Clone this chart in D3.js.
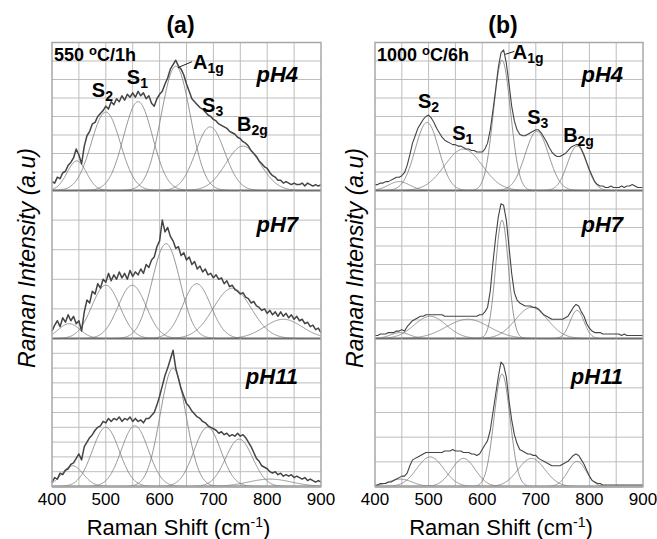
<!DOCTYPE html>
<html>
<head>
<meta charset="utf-8">
<script src="https://cdn.jsdelivr.net/npm/d3@7/dist/d3.min.js"></script>
<style>
  body { margin: 0; background: #fff; }
  svg text { font-family: "Liberation Sans", Arial, sans-serif; fill: #000; }
</style>
</head>
<body>
<div id="chart"></div>
<script>
// x axis
const shiftDomain = [400, 900];
const shiftTicks = [400, 500, 600, 700, 800, 900];
const shiftGrid = [450, 500, 550, 600, 650, 700, 750, 800, 850];
const sampleStart = 400;
const sampleStep = 5;

// measured spectra, normalised intensity, one value every 5 cm-1 from 400 to 900
const a4Spectrum = [.06,.05,.09,.08,.12,.13,.17,.19,.22,.28,.24,.18,.30,.37,.40,.45,.46,.50,.52,.54,
  .57,.55,.60,.58,.62,.60,.64,.61,.65,.63,.66,.63,.67,.64,.66,.62,.64,.59,.57,.62,
  .65,.67,.72,.76,.82,.85,.88,.84,.82,.78,.72,.67,.62,.60,.58,.56,.55,.53,.51,.50,
  .48,.47,.45,.44,.43,.42,.40,.39,.38,.36,.35,.33,.32,.30,.27,.25,.23,.20,.18,.16,
  .15,.12,.10,.09,.07,.07,.05,.06,.05,.04,.05,.04,.04,.05,.03,.05,.04,.03,.04,.03,.04];
const a7Spectrum = [.05,.09,.12,.08,.14,.11,.16,.12,.15,.10,.12,.05,.18,.26,.24,.32,.30,.37,.34,.40,
  .38,.44,.39,.43,.40,.45,.41,.44,.40,.46,.42,.45,.43,.47,.44,.50,.48,.53,.55,.62,
  .66,.80,.72,.75,.69,.66,.61,.62,.56,.58,.53,.55,.50,.52,.47,.49,.45,.47,.43,.44,
  .41,.43,.40,.41,.37,.39,.35,.36,.33,.32,.30,.31,.28,.27,.24,.25,.22,.21,.19,.20,
  .17,.19,.16,.18,.15,.18,.15,.17,.14,.16,.13,.15,.12,.13,.10,.11,.08,.09,.06,.07,.04];
const a11Spectrum = [.03,.06,.05,.09,.08,.11,.12,.15,.16,.19,.22,.18,.27,.30,.33,.35,.38,.40,.41,.44,
  .43,.46,.44,.46,.45,.47,.44,.46,.45,.47,.44,.46,.44,.45,.43,.46,.46,.48,.50,.55,
  .61,.68,.75,.80,.86,.92,.80,.73,.66,.61,.56,.54,.51,.49,.47,.46,.44,.43,.41,.40,
  .39,.38,.36,.37,.35,.36,.34,.35,.34,.36,.34,.35,.33,.30,.27,.23,.19,.17,.14,.13,
  .12,.10,.09,.10,.08,.09,.07,.08,.07,.08,.06,.07,.06,.05,.06,.04,.05,.04,.03,.04,.03];
const b4Spectrum = [.04,.04,.05,.05,.06,.06,.07,.08,.09,.09,.10,.12,.17,.24,.32,.37,.42,.45,.48,.50,
  .51,.49,.46,.42,.39,.36,.34,.33,.32,.31,.31,.30,.30,.29,.28,.28,.27,.27,.26,.26,
  .26,.28,.32,.41,.54,.68,.83,.93,.95,.86,.72,.57,.47,.41,.38,.37,.37,.38,.39,.40,
  .41,.41,.39,.36,.33,.29,.26,.24,.23,.23,.24,.25,.27,.29,.30,.31,.31,.28,.24,.19,
  .14,.10,.06,.04,.03,.03,.02,.02,.03,.02,.02,.02,.03,.02,.03,.03,.04,.03,.02,.02,.02];
const b7Spectrum = [.02,.02,.03,.03,.03,.04,.04,.04,.05,.05,.06,.05,.08,.10,.12,.13,.14,.15,.15,.16,
  .16,.16,.16,.16,.16,.16,.15,.15,.15,.15,.15,.15,.15,.15,.15,.15,.15,.15,.15,.16,
  .16,.18,.21,.32,.51,.68,.82,.91,.90,.80,.62,.44,.31,.26,.24,.23,.22,.22,.22,.21,
  .21,.20,.18,.16,.15,.14,.13,.13,.13,.13,.13,.14,.15,.18,.21,.23,.22,.18,.15,.10,
  .07,.05,.04,.04,.04,.03,.03,.03,.03,.03,.03,.03,.02,.03,.02,.02,.02,.02,.02,.02,.02];
const b11Spectrum = [.01,.01,.02,.02,.02,.03,.03,.04,.05,.06,.07,.07,.09,.14,.18,.19,.20,.21,.22,.23,
  .23,.23,.23,.23,.23,.23,.24,.24,.24,.25,.24,.24,.24,.23,.23,.23,.22,.22,.21,.22,
  .25,.28,.31,.38,.50,.62,.74,.84,.82,.74,.58,.45,.35,.29,.25,.24,.23,.22,.22,.21,
  .21,.19,.18,.17,.16,.15,.14,.14,.14,.14,.15,.16,.17,.19,.21,.22,.21,.18,.15,.11,
  .07,.04,.03,.02,.02,.01,.01,.01,.01,.01,.01,.01,.01,.01,.01,.01,.01,.01,.01,.01,.01];

// fitted components: centre (cm-1), height, sigma (cm-1)
const a4Centres = [446, 500, 560, 630, 694, 755];
const a4Heights = [.20, .53, .60, .84, .43, .30];
const a4Sigmas  = [18, 27, 27, 27, 27, 32];
const a7Centres = [432, 500, 549, 612, 669, 735, 830];
const a7Heights = [.10, .36, .36, .64, .37, .34, .13];
const a7Sigmas  = [20, 26, 26, 26, 26, 35, 35];
const a11Centres = [438, 500, 554, 625, 689, 748, 805];
const a11Heights = [.14, .40, .41, .80, .40, .32, .05];
const a11Sigmas  = [20, 25, 25, 24, 25, 25, 40];
const b4Centres = [445, 497, 565, 637, 702, 777];
const b4Heights = [.06, .46, .28, .88, .40, .30];
const b4Sigmas  = [20, 22, 35, 16, 22, 18];
const b7Centres = [447, 503, 573, 637, 692, 777];
const b7Heights = [.04, .15, .13, .80, .21, .19];
const b7Sigmas  = [18, 30, 40, 12, 30, 13];
const b11Centres = [447, 503, 565, 637, 692, 777];
const b11Heights = [.05, .20, .19, .76, .19, .17];
const b11Sigmas  = [22, 25, 22, 15, 25, 17];

const phLabels = ['pH4', 'pH7', 'pH11'];
const panelTitles = ['(a)', '(b)'];
const panelConditions = ['550 ', '1000 '];
const conditionSuffix = ['C/1h', 'C/6h'];
const bandNames = [['S', '2'], ['S', '1'], ['A', '1g'], ['S', '3'], ['B', '2g']];

// layout
const panelX = [[52, 321], [375, 643]];
const rowEdges = [42.5, 190.5, 338.5, 486.5];
const gridRows = [[8, 5, 10], [8, 8, 6]];
// band label anchors [shift, level] in the top (pH4) sub-plot
const bandLabelPos = [
    [[474, .63], [539, .72], [662, .82], [679, .53], [744, .40]],
    [[480, .56], [544, .34], [657, .89], [684, .45], [751, .33]]
];
const leaderPos = [[[634, .83], [660, .87]], [[643, .92], [660, .94]]];

const panels = [
    [
        { spectrum: a4Spectrum, centres: a4Centres, heights: a4Heights, sigmas: a4Sigmas },
        { spectrum: a7Spectrum, centres: a7Centres, heights: a7Heights, sigmas: a7Sigmas },
        { spectrum: a11Spectrum, centres: a11Centres, heights: a11Heights, sigmas: a11Sigmas }
    ],
    [
        { spectrum: b4Spectrum, centres: b4Centres, heights: b4Heights, sigmas: b4Sigmas },
        { spectrum: b7Spectrum, centres: b7Centres, heights: b7Heights, sigmas: b7Sigmas },
        { spectrum: b11Spectrum, centres: b11Centres, heights: b11Heights, sigmas: b11Sigmas }
    ]
];

const svg = d3.select('#chart').append('svg')
    .attr('width', 657)
    .attr('height', 539);

function gaussian(x, c, h, s) {
    return h * Math.exp(-((x - c) * (x - c)) / (2 * s * s));
}

panels.forEach((rows, p) => {
    const x = d3.scaleLinear().domain(shiftDomain).range(panelX[p]);
    const g = svg.append('g');

    rows.forEach((row, r) => {
        const y = d3.scaleLinear().domain([0, 1]).range([rowEdges[r + 1], rowEdges[r]]);
        const sub = g.append('g');

        // vertical grid
        sub.append('g')
            .selectAll('line')
            .data(shiftGrid)
            .join('line')
            .attr('x1', d => x(d)).attr('x2', d => x(d))
            .attr('y1', rowEdges[r]).attr('y2', rowEdges[r + 1])
            .attr('stroke', '#bdbdbd')
            .attr('stroke-width', 1);

        // horizontal grid
        sub.append('g')
            .selectAll('line')
            .data(d3.range(1, gridRows[p][r]).map(i => i / gridRows[p][r]))
            .join('line')
            .attr('x1', panelX[p][0]).attr('x2', panelX[p][1])
            .attr('y1', d => y(d)).attr('y2', d => y(d))
            .attr('stroke', '#bdbdbd')
            .attr('stroke-width', 1);

        // components
        const fine = d3.range(shiftDomain[0], shiftDomain[1] + 1, 1);
        row.centres.forEach((c, k) => {
            const line = d3.line()
                .x(d => x(d))
                .y(d => y(gaussian(d, c, row.heights[k], row.sigmas[k])));
            sub.append('path')
                .datum(fine.filter(d => Math.abs(d - c) < 4.5 * row.sigmas[k]))
                .attr('fill', 'none')
                .attr('stroke', '#7a7a7a')
                .attr('stroke-width', 0.8)
                .attr('d', line);
        });

        // measured spectrum
        sub.append('path')
            .datum(row.spectrum)
            .attr('fill', 'none')
            .attr('stroke', '#444')
            .attr('stroke-width', p === 0 ? 1.5 : 1.1)
            .attr('stroke-linejoin', 'round')
            .attr('d', d3.line()
                .x((d, i) => x(sampleStart + i * sampleStep))
                .y(d => y(d)));

        // baseline of each sub-plot
        sub.append('line')
            .attr('x1', panelX[p][0]).attr('x2', panelX[p][1])
            .attr('y1', rowEdges[r + 1]).attr('y2', rowEdges[r + 1])
            .attr('stroke', '#6e6e6e')
            .attr('stroke-width', 2);

        // pH label
        sub.append('text')
            .attr('x', p === 0 ? 298 : 623)
            .attr('y', y(r === 0 ? 0.73 : r === 1 ? 0.72 : 0.69))
            .attr('text-anchor', 'end')
            .style('font-size', '22px')
            .style('font-weight', 'bold')
            .style('font-style', 'italic')
            .text(phLabels[r]);

        if (r === 0) {
            // band labels
            bandNames.forEach((b, k) => {
                const t = sub.append('text')
                    .attr('x', x(bandLabelPos[p][k][0]))
                    .attr('y', y(bandLabelPos[p][k][1]))
                    .style('font-size', '20px')
                    .style('font-weight', 'bold');
                t.append('tspan').text(b[0]);
                t.append('tspan')
                    .attr('dy', 4)
                    .style('font-size', '14px')
                    .text(b[1]);
            });

            sub.append('line')
                .attr('x1', x(leaderPos[p][0][0])).attr('y1', y(leaderPos[p][0][1]))
                .attr('x2', x(leaderPos[p][1][0])).attr('y2', y(leaderPos[p][1][1]))
                .attr('stroke', '#222')
                .attr('stroke-width', 1);

            // annealing condition
            const cond = sub.append('text')
                .attr('x', panelX[p][0] + 2)
                .attr('y', rowEdges[0] + 18)
                .style('font-size', '18px')
                .style('font-weight', 'bold');
            cond.append('tspan').text(panelConditions[p]);
            cond.append('tspan').attr('dy', -6).style('font-size', '13px').text('o');
            cond.append('tspan').attr('dy', 6).text(conditionSuffix[p]);
        }
    });

    // outer frame
    g.append('rect')
        .attr('x', panelX[p][0]).attr('y', rowEdges[0])
        .attr('width', panelX[p][1] - panelX[p][0])
        .attr('height', rowEdges[3] - rowEdges[0])
        .attr('fill', 'none')
        .attr('stroke', '#a8a8a8')
        .attr('stroke-width', 1.5);

    // x tick labels
    g.append('g')
        .selectAll('text')
        .data(shiftTicks)
        .join('text')
        .attr('x', d => x(d))
        .attr('y', 505)
        .attr('text-anchor', 'middle')
        .style('font-size', '17px')
        .text(d => d);

    // titles and axis labels
    const mid = (panelX[p][0] + panelX[p][1]) / 2;
    g.append('text')
        .attr('x', mid - 6)
        .attr('y', 33)
        .attr('text-anchor', 'middle')
        .style('font-size', '23px')
        .style('font-weight', 'bold')
        .text(panelTitles[p]);

    const xl = g.append('text')
        .attr('x', mid - 8)
        .attr('y', 535)
        .attr('text-anchor', 'middle')
        .style('font-size', '22px');
    xl.append('tspan').text('Raman Shift (cm');
    xl.append('tspan').attr('dy', -8).style('font-size', '14px').text('-1');
    xl.append('tspan').attr('dy', 8).text(')');

    g.append('text')
        .attr('transform', `translate(${p === 0 ? 35 : 363},258) rotate(-90)`)
        .attr('text-anchor', 'middle')
        .style('font-size', '23px')
        .style('font-style', 'italic')
        .text('Raman Intensity (a.u)');
});
</script>
</body>
</html>
